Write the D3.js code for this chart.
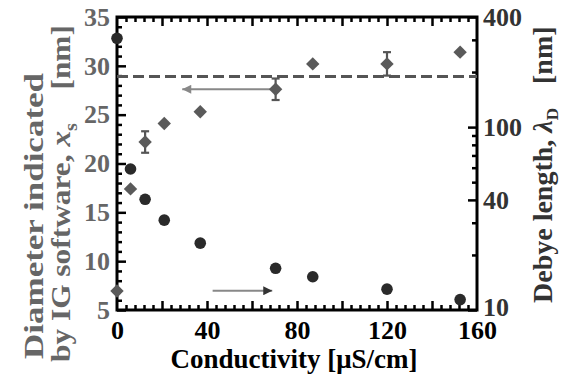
<!DOCTYPE html>
<html>
<head>
<meta charset="utf-8">
<script src="https://cdn.jsdelivr.net/npm/d3@7"></script>
<style>
  body { margin: 0; background: #fff; }
  svg text { font-family: "Liberation Serif", "Times New Roman", serif; font-weight: bold; }
</style>
</head>
<body>
<div id="chart"></div>
<script>
// conductivity [uS/cm] of each sample
var conductivity = [0, 6, 12.5, 21, 37, 70.5, 87, 120, 152.5];
// diameter reported by IG software [nm] (left axis, diamonds)
var diameterNm = [6.95, 17.4, 22.2, 24.1, 25.3, 27.6, 30.2, 30.2, 31.4];
var diameterErr = [0, 0, 1.1, 0, 0, 1.1, 0, 1.2, 0];
// Debye length [nm] (right axis, circles, log)
var debyeNm = [306, 59, 40.3, 31, 23.2, 16.9, 15.2, 13.0, 11.4];
var thresholdNm = 28.9;

var xTickLabels = [0, 40, 80, 120, 160];
var leftTickLabels = [5, 10, 15, 20, 25, 30, 35];
var rightTickLabels = [10, 40, 100, 400];
var rightMinor = [20, 30, 50, 60, 70, 80, 90, 200, 300];

// arrows pointing at the axis each series belongs to
var arrowLeft = {from: 70, to: 29, y: 27.6};
var arrowRight = {from: 42.5, to: 69, y: 12.75};

var W = 576, H = 376;
var m = {left: 117, right: 477, top: 17, bottom: 310};

var svg = d3.select("#chart").append("svg")
    .attr("width", W).attr("height", H);

var x = d3.scaleLinear().domain([0, 160]).range([m.left, m.right]);
var yL = d3.scaleLinear().domain([5, 35]).range([m.bottom, m.top]);
var yR = d3.scaleLog().domain([10, 400]).range([m.bottom, m.top]);

var tickW = 2.5;

function style(g, color) {
    g.select(".domain").remove();
    g.selectAll("line").attr("stroke", "#000").attr("stroke-width", tickW);
    g.selectAll("text").attr("fill", color).style("font-size", "26px");
}

// x axes (bottom + top) with inward ticks
var xMinor = d3.range(4, 160, 4).filter(function(v){ return v % 20 !== 0; });
var xMajor = d3.range(20, 160, 20);
[["bottom", m.bottom, d3.axisBottom], ["top", m.top, d3.axisTop]].forEach(function(a) {
    svg.append("g").attr("transform", "translate(0," + a[1] + ")")
        .call(a[2](x).tickValues(xMinor).tickSize(-5).tickFormat(""))
        .call(style, "#000");
    svg.append("g").attr("transform", "translate(0," + a[1] + ")")
        .call(a[2](x).tickValues(xMajor).tickSize(-9).tickFormat(""))
        .call(style, "#000");
});
svg.append("g").attr("transform", "translate(0," + m.bottom + ")")
    .call(d3.axisBottom(x).tickValues(xTickLabels).tickSize(0).tickPadding(11))
    .call(style, "#000");

// left axis
svg.append("g").attr("transform", "translate(" + m.left + ",0)")
    .call(d3.axisLeft(yL).tickValues(d3.range(6, 35, 1).filter(function(v){ return v % 5 !== 0; }))
        .tickSize(-5).tickFormat(""))
    .call(style, "#666");
svg.append("g").attr("transform", "translate(" + m.left + ",0)")
    .call(d3.axisLeft(yL).tickValues(leftTickLabels).tickSize(-9).tickPadding(7))
    .call(style, "#666");

// right axis (log)
svg.append("g").attr("transform", "translate(" + m.right + ",0)")
    .call(d3.axisRight(yR).tickValues(rightMinor).tickSize(-5).tickFormat(""))
    .call(style, "#333");
var rAx = svg.append("g").attr("transform", "translate(" + m.right + ",0)")
    .call(d3.axisRight(yR).tickValues(rightTickLabels).tickSize(-9).tickPadding(6)
        .tickFormat(d3.format("d")))
    .call(style, "#333");
rAx.selectAll("text").filter(function(d){ return d === 10; }).attr("dy", "0.2em");

// frame
svg.append("rect")
    .attr("x", m.left).attr("y", m.top)
    .attr("width", m.right - m.left).attr("height", m.bottom - m.top)
    .attr("fill", "none").attr("stroke", "#000").attr("stroke-width", 3);

// dashed reference line
svg.append("line")
    .attr("x1", m.left).attr("x2", m.right)
    .attr("y1", yL(thresholdNm)).attr("y2", yL(thresholdNm))
    .attr("stroke", "#555").attr("stroke-width", 3)
    .attr("stroke-dasharray", "11,5");

// arrows
var defs = svg.append("defs");
defs.append("marker").attr("id", "headL")
    .attr("viewBox", "0 0 10 10").attr("refX", 10).attr("refY", 5)
    .attr("markerWidth", 12).attr("markerHeight", 9).attr("markerUnits", "userSpaceOnUse")
    .attr("orient", "auto")
    .append("path").attr("d", "M0,0L10,5L0,10Z").attr("fill", "#888");
defs.append("marker").attr("id", "headR")
    .attr("viewBox", "0 0 10 10").attr("refX", 10).attr("refY", 5)
    .attr("markerWidth", 12).attr("markerHeight", 9).attr("markerUnits", "userSpaceOnUse")
    .attr("orient", "auto")
    .append("path").attr("d", "M0,0L10,5L0,10Z").attr("fill", "#333");

svg.append("line")
    .attr("x1", x(arrowLeft.from)).attr("x2", x(arrowLeft.to))
    .attr("y1", yL(arrowLeft.y)).attr("y2", yL(arrowLeft.y))
    .attr("stroke", "#888").attr("stroke-width", 2)
    .attr("marker-end", "url(#headL)");
svg.append("line")
    .attr("x1", x(arrowRight.from)).attr("x2", x(arrowRight.to))
    .attr("y1", yR(arrowRight.y)).attr("y2", yR(arrowRight.y))
    .attr("stroke", "#888").attr("stroke-width", 2)
    .attr("marker-end", "url(#headR)");

// error bars
var pts = conductivity.map(function(c, i) {
    return {c: c, d: diameterNm[i], e: diameterErr[i], l: debyeNm[i]};
});
var eb = svg.append("g").attr("stroke", "#555").attr("stroke-width", 2.2)
    .selectAll("g").data(pts.filter(function(p){ return p.e > 0; })).enter().append("g");
eb.append("line")
    .attr("x1", function(p){ return x(p.c); }).attr("x2", function(p){ return x(p.c); })
    .attr("y1", function(p){ return yL(p.d - p.e); }).attr("y2", function(p){ return yL(p.d + p.e); });
[-1, 1].forEach(function(s) {
    eb.append("line")
        .attr("x1", function(p){ return x(p.c) - 4; }).attr("x2", function(p){ return x(p.c) + 4; })
        .attr("y1", function(p){ return yL(p.d + s * p.e); }).attr("y2", function(p){ return yL(p.d + s * p.e); });
});

// diamonds
svg.append("g").selectAll("path").data(pts).enter().append("path")
    .attr("d", d3.symbol(d3.symbolSquare, 90))
    .attr("transform", function(p){ return "translate(" + x(p.c) + "," + yL(p.d) + ") rotate(45)"; })
    .attr("fill", "#5a5a5a");

// circles
svg.append("g").selectAll("circle").data(pts).enter().append("circle")
    .attr("cx", function(p){ return x(p.c); })
    .attr("cy", function(p){ return yR(p.l); })
    .attr("r", 5.8)
    .attr("fill", "#2a2a2a");

// titles
svg.append("text")
    .attr("x", (m.left + m.right) / 2 - 3).attr("y", 368)
    .attr("text-anchor", "middle")
    .style("font-size", "27px").attr("fill", "#000")
    .text("Conductivity [\u03bcS/cm]");

// the left title is drawn wider than normal in the source figure
var lt = svg.append("g").attr("fill", "#666").style("font-size", "28px");
lt.append("text")
    .attr("transform", "translate(43,359) rotate(-90) scale(1.25,1)")
    .text("Diameter indicated");
var lt2 = lt.append("text")
    .attr("transform", "translate(70,362) rotate(-90) scale(1.12,1)");
lt2.append("tspan").text("by IG software, ");
lt2.append("tspan").style("font-style", "italic").text("x");
lt2.append("tspan").attr("dy", 7).style("font-size", "18px").text("s");
lt2.append("tspan").attr("dy", -7).attr("dx", 30).text("[nm]");

var rt = svg.append("text")
    .attr("transform", "translate(552,303) rotate(-90)")
    .attr("fill", "#333").style("font-size", "28px");
rt.append("tspan").text("Debye length, ");
rt.append("tspan").style("font-style", "italic").text("\u03bb");
rt.append("tspan").attr("dy", 6).style("font-size", "17px").text("D");
rt.append("tspan").attr("dy", -6).attr("dx", 24).text("[nm]");
</script>
</body>
</html>
